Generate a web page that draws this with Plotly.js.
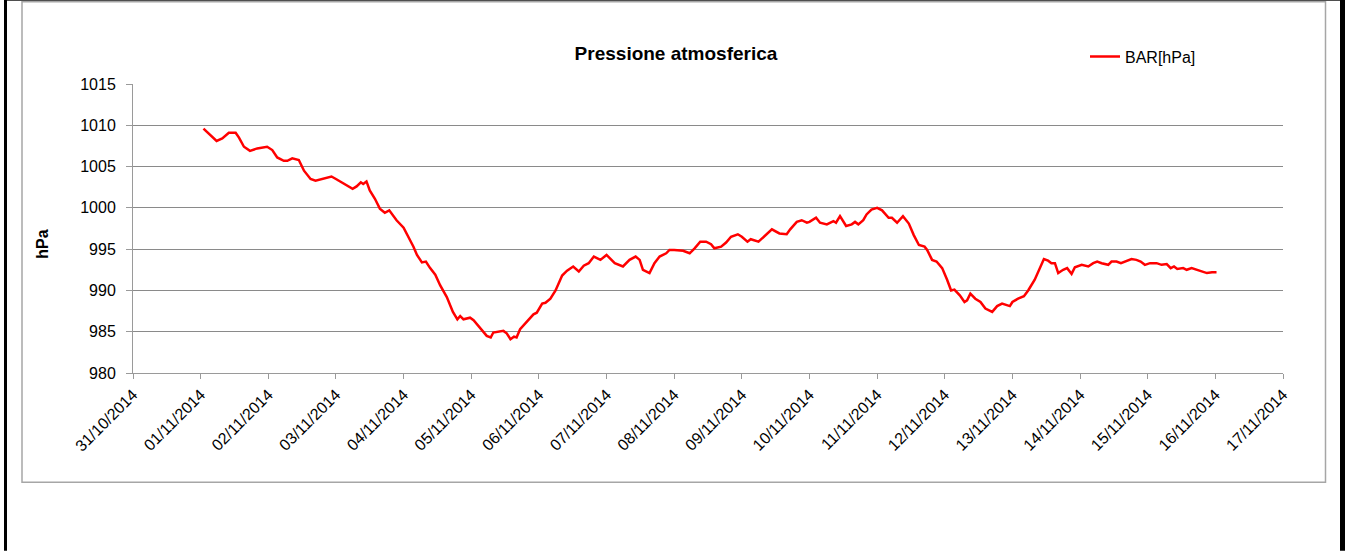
<!DOCTYPE html>
<html>
<head>
<meta charset="utf-8">
<script src="https://cdn.plot.ly/plotly-3.0.1.min.js"></script>
<style>
html,body{margin:0;padding:0;background:#fff;}
#chart{width:1345px;height:551px;}
</style>
</head>
<body>
<div id="chart"></div>
<script>
// Data
var chartTitle = "Pressione atmosferica";
var seriesName = "BAR[hPa]";
var yAxisTitle = "hPa";
var times = [
"2014-11-01 01:00","2014-11-01 03:00","2014-11-01 05:40","2014-11-01 07:40","2014-11-01 10:00","2014-11-01 12:25","2014-11-01 13:36","2014-11-01 15:22","2014-11-01 17:30","2014-11-01 20:05","2014-11-01 23:35",
"2014-11-02 01:25","2014-11-02 03:10","2014-11-02 05:30","2014-11-02 06:45","2014-11-02 08:30","2014-11-02 10:50","2014-11-02 12:40","2014-11-02 15:00","2014-11-02 16:45","2014-11-02 19:45","2014-11-02 22:25",
"2014-11-03 00:00","2014-11-03 01:25","2014-11-03 03:45","2014-11-03 05:55","2014-11-03 07:20","2014-11-03 08:50","2014-11-03 09:40","2014-11-03 10:50","2014-11-03 12:00","2014-11-03 13:50","2014-11-03 15:35","2014-11-03 17:20","2014-11-03 18:55","2014-11-03 21:30",
"2014-11-04 00:00","2014-11-04 01:45","2014-11-04 03:30","2014-11-04 04:45","2014-11-04 06:30","2014-11-04 07:55","2014-11-04 09:25","2014-11-04 11:15","2014-11-04 13:00","2014-11-04 15:20","2014-11-04 17:30","2014-11-04 19:05","2014-11-04 20:05","2014-11-04 21:15","2014-11-04 23:35",
"2014-11-05 00:50","2014-11-05 03:10","2014-11-05 05:30","2014-11-05 06:55","2014-11-05 07:50","2014-11-05 11:25","2014-11-05 12:35","2014-11-05 13:55","2014-11-05 15:10","2014-11-05 16:05","2014-11-05 17:20","2014-11-05 19:40","2014-11-05 22:05","2014-11-05 23:15",
"2014-11-06 01:10","2014-11-06 02:20","2014-11-06 04:05","2014-11-06 05:55","2014-11-06 08:15","2014-11-06 10:00","2014-11-06 12:10","2014-11-06 14:10","2014-11-06 15:55","2014-11-06 17:40","2014-11-06 19:30","2014-11-06 21:50",
"2014-11-07 00:00","2014-11-07 02:55","2014-11-07 05:50","2014-11-07 08:10","2014-11-07 10:20","2014-11-07 11:45","2014-11-07 12:55","2014-11-07 15:15","2014-11-07 17:00","2014-11-07 18:50","2014-11-07 21:10","2014-11-07 22:20",
"2014-11-08 00:00","2014-11-08 03:10","2014-11-08 05:30","2014-11-08 07:15","2014-11-08 09:15","2014-11-08 11:20","2014-11-08 13:05","2014-11-08 14:15","2014-11-08 16:40","2014-11-08 18:25","2014-11-08 20:10","2014-11-08 22:35",
"2014-11-09 00:00","2014-11-09 02:00","2014-11-09 03:10","2014-11-09 05:55","2014-11-09 08:15","2014-11-09 10:40","2014-11-09 13:20","2014-11-09 15:55","2014-11-09 17:10","2014-11-09 19:30","2014-11-09 21:15","2014-11-09 23:05",
"2014-11-10 00:00","2014-11-10 02:20","2014-11-10 03:45","2014-11-10 06:10","2014-11-10 08:30","2014-11-10 09:25","2014-11-10 10:50","2014-11-10 13:00","2014-11-10 15:00","2014-11-10 16:10","2014-11-10 17:20","2014-11-10 19:05","2014-11-10 20:15","2014-11-10 22:00",
"2014-11-11 00:00","2014-11-11 01:45","2014-11-11 04:05","2014-11-11 05:15","2014-11-11 07:05","2014-11-11 09:10","2014-11-11 11:15","2014-11-11 13:00","2014-11-11 14:50","2014-11-11 16:50","2014-11-11 17:45","2014-11-11 19:30","2014-11-11 21:05","2014-11-11 23:05",
"2014-11-12 00:50","2014-11-12 02:15","2014-11-12 03:25","2014-11-12 05:20","2014-11-12 07:00","2014-11-12 07:55","2014-11-12 09:05","2014-11-12 10:50","2014-11-12 12:40","2014-11-12 14:25","2014-11-12 16:50","2014-11-12 18:35","2014-11-12 20:20","2014-11-12 23:05",
"2014-11-13 00:00","2014-11-13 02:00","2014-11-13 04:05","2014-11-13 05:35","2014-11-13 07:55","2014-11-13 09:45","2014-11-13 11:10","2014-11-13 12:40","2014-11-13 13:50","2014-11-13 15:05","2014-11-13 16:15","2014-11-13 18:00","2014-11-13 19:25","2014-11-13 21:00","2014-11-13 22:10",
"2014-11-14 00:35","2014-11-14 02:55","2014-11-14 04:40","2014-11-14 06:05","2014-11-14 07:40","2014-11-14 10:00","2014-11-14 11:10","2014-11-14 12:55","2014-11-14 14:30","2014-11-14 16:30","2014-11-14 18:15","2014-11-14 20:00","2014-11-14 21:30","2014-11-14 23:00",
"2014-11-15 00:50","2014-11-15 03:10","2014-11-15 04:55","2014-11-15 06:45","2014-11-15 08:10","2014-11-15 09:20","2014-11-15 10:30","2014-11-15 12:35","2014-11-15 13:50","2014-11-15 15:35","2014-11-15 17:25","2014-11-15 19:15","2014-11-15 21:00","2014-11-15 22:50",
"2014-11-16 00:25"
];
var pressure = [
1009.6,1009.0,1008.1,1008.4,1009.1,1009.1,1008.5,1007.4,1006.9,1007.2,1007.4,
1007.0,1006.1,1005.7,1005.7,1006.0,1005.8,1004.5,1003.5,1003.3,1003.6,1003.8,
1003.5,1003.2,1002.8,1002.3,1002.6,1003.1,1002.9,1003.2,1002.1,1001.1,999.9,999.4,999.7,998.5,
997.6,996.5,995.3,994.3,993.4,993.5,992.7,991.9,990.6,989.2,987.4,986.5,986.9,986.5,986.7,
986.4,985.4,984.5,984.3,984.9,985.1,984.8,984.1,984.4,984.3,985.3,986.2,987.1,987.3,
988.4,988.5,989.0,990.0,991.8,992.4,992.9,992.3,993.0,993.3,994.1,993.7,
994.3,993.3,992.9,993.7,994.1,993.7,992.5,992.1,993.3,994.1,994.5,994.9,
994.9,994.8,994.5,995.1,995.9,995.9,995.6,995.1,995.3,995.8,996.5,996.8,
996.5,995.9,996.2,995.9,996.7,997.4,996.9,996.8,997.4,998.3,998.5,998.2,
998.3,998.8,998.2,998.0,998.4,998.2,999.0,997.8,998.0,998.3,998.0,998.5,999.2,999.8,
1000.0,999.7,998.8,998.8,998.2,999.0,998.1,996.7,995.5,995.3,994.9,993.7,993.5,992.7,
991.3,990.0,990.1,989.4,988.6,988.8,989.6,989.0,988.6,987.8,987.4,988.1,988.4,988.1,
988.6,989.0,989.3,990.0,991.3,992.7,993.8,993.6,993.3,993.3,992.1,992.5,992.7,992.0,992.8,
993.1,992.9,993.3,993.5,993.3,993.1,993.5,993.5,993.3,993.6,993.8,993.7,993.5,993.1,
993.3,993.3,993.1,993.2,992.7,992.9,992.6,992.7,992.5,992.7,992.5,992.3,992.1,992.2,
992.2
];
var xRange = ["2014-10-31", "2014-11-17"];
var yRange = [980, 1015];

// pixel helpers for decorative frame (plot area: x 133..1283, y 84.3..373.3)
var L = 133, R = 1283, T = 84.3, B = 373.3;
function px(x){ return (x - L) / (R - L); }
function py(y){ return (B - y) / (B - T); }

var FONT = "Liberation Sans, Arial, sans-serif";

var trace = {
  x: times, y: pressure, type: "scatter", mode: "lines", name: seriesName,
  line: {color: "#ff0000", width: 2.5}
};

var layout = {
  width: 1345, height: 551,
  margin: {l: L, r: 1345 - R, t: T, b: 551 - B},
  paper_bgcolor: "#ffffff", plot_bgcolor: "#ffffff",
  font: {family: FONT, size: 16, color: "#000000"},
  title: {text: "<b>" + chartTitle + "</b>", font: {family: FONT, size: 19, color: "#000"},
          xref: "paper", x: px(676), xanchor: "center", yref: "container", y: 1 - 53/551, yanchor: "middle"},
  showlegend: true,
  legend: {x: px(1085), xanchor: "left", y: py(57), yanchor: "middle", bgcolor: "rgba(0,0,0,0)",
           font: {family: FONT, size: 16, color: "#000"}, borderwidth: 0},
  xaxis: {
    type: "date", range: xRange, tick0: "2014-10-31", dtick: 86400000,
    tickformat: "%d/%m/%Y", tickangle: -45, showgrid: false, zeroline: false,
    showline: true, linecolor: "#9a9a9a", linewidth: 1,
    ticks: "outside", ticklen: 5, tickcolor: "#9a9a9a", tickwidth: 1,
    tickfont: {family: FONT, size: 16, color: "#000"}, fixedrange: true
  },
  yaxis: {
    range: yRange, tick0: 980, dtick: 5, showgrid: true, gridcolor: "#8a8a8a", gridwidth: 1,
    zeroline: false, showline: true, linecolor: "#9a9a9a", linewidth: 1,
    ticks: "outside", ticklen: 6, tickcolor: "#9a9a9a", tickwidth: 1, ticklabelstandoff: 7,
    tickfont: {family: FONT, size: 16, color: "#000"}, fixedrange: true
  },
  annotations: [
    {text: "<b>" + yAxisTitle + "</b>", xref: "paper", yref: "paper", x: px(43), y: py(245),
     xanchor: "center", yanchor: "middle", textangle: -90, showarrow: false,
     font: {family: FONT, size: 16, color: "#000"}}
  ],
  shapes: [
    {type: "rect", xref: "paper", yref: "paper", x0: px(22), x1: px(1325.5), y0: py(482.5), y1: py(2),
     line: {color: "#a6a6a6", width: 1.5}, fillcolor: "rgba(0,0,0,0)", layer: "below"},
    {type: "line", xref: "paper", yref: "paper", x0: px(5.5), x1: px(5.5), y0: py(551), y1: py(0),
     line: {color: "#000", width: 3}},
    {type: "line", xref: "paper", yref: "paper", x0: px(1342.5), x1: px(1342.5), y0: py(551), y1: py(0),
     line: {color: "#000", width: 5}},
    {type: "line", xref: "paper", yref: "paper", x0: px(4), x1: px(1345), y0: py(0.5), y1: py(0.5),
     line: {color: "#000", width: 1}}
  ]
};

Plotly.newPlot("chart", [trace], layout, {displayModeBar: false, staticPlot: true});
</script>
</body>
</html>
